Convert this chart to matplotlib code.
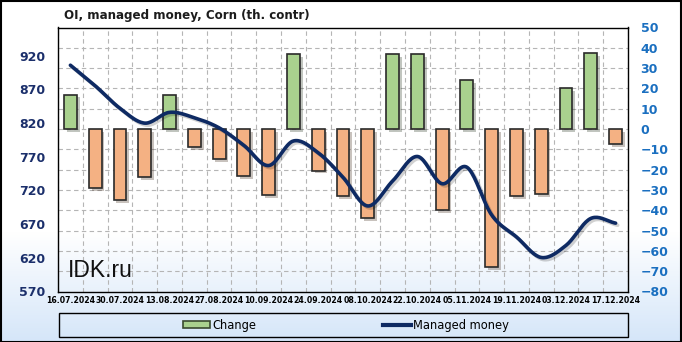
import numpy as np
import matplotlib
matplotlib.use('Agg')
import matplotlib.pyplot as plt
import matplotlib.patheffects as pe
from matplotlib.patches import Rectangle, Patch
from matplotlib.lines import Line2D
from matplotlib.colors import LinearSegmentedColormap

# --- data ---
dates = ['16.07.2024', '23.07.2024', '30.07.2024', '06.08.2024', '13.08.2024',
         '20.08.2024', '27.08.2024', '03.09.2024', '10.09.2024', '17.09.2024',
         '24.09.2024', '01.10.2024', '08.10.2024', '15.10.2024', '22.10.2024',
         '29.10.2024', '05.11.2024', '12.11.2024', '19.11.2024', '26.11.2024',
         '03.12.2024', '10.12.2024', '17.12.2024']
change = [17, -29, -35, -23.5, 17, -9, -15, -23, -32.5, 37, -20.5, -33,
          -44, 37, 37, -40, 24, -68, -33, -32, 20, 37.5, -7.5]
managed_money = [906, 875.5, 842, 820, 836, 828, 813, 787, 757, 793.5, 776,
                 739.5, 697, 734, 770.5, 730, 754.5, 683.5, 651, 620.5,
                 638.5, 678.5, 671.5]
left_ticks = [570, 620, 670, 720, 770, 820, 870, 920]
right_ticks = list(range(-80, 51, 10))

GREEN = '#a9d18e'
ORANGE = '#f4b183'
NAVY = '#0e2a63'


def catmull_rom(xs, ys, steps=20):
    # smooth curve through the points, like the spreadsheet "smoothed line"
    px = np.concatenate([[2 * xs[0] - xs[1]], xs, [2 * xs[-1] - xs[-2]]])
    py = np.concatenate([[2 * ys[0] - ys[1]], ys, [2 * ys[-1] - ys[-2]]])
    out_x, out_y = [], []
    t = np.linspace(0, 1, steps, endpoint=False)
    for i in range(1, len(px) - 2):
        for p, out in ((px, out_x), (py, out_y)):
            p0, p1, p2, p3 = p[i - 1], p[i], p[i + 1], p[i + 2]
            out.extend(0.5 * (2 * p1 + (-p0 + p2) * t
                              + (2 * p0 - 5 * p1 + 4 * p2 - p3) * t ** 2
                              + (-p0 + 3 * p1 - 3 * p2 + p3) * t ** 3))
    out_x.append(xs[-1])
    out_y.append(ys[-1])
    return np.array(out_x), np.array(out_y)


fig = plt.figure(figsize=(6.82, 3.42), dpi=100)

# background gradient: white on top, light blue at the bottom
bg = fig.add_axes([0, 0, 1, 1], zorder=-10)
cmap = LinearSegmentedColormap.from_list('bg', [(0, '#d5e6f9'), (0.32, '#ffffff'), (1, '#ffffff')])
grad = np.linspace(0, 1, 256).reshape(-1, 1)
bg.imshow(grad, cmap=cmap, aspect='auto', origin='lower', extent=[0, 1, 0, 1])
bg.set_axis_off()

ax = fig.add_axes([58 / 682, 1 - 291.5 / 342, 570 / 682, 264 / 342])
ax.patch.set_alpha(0)
ax2 = ax.twinx()
x = np.arange(len(dates))

# bars (Change), right-hand scale
colors = [GREEN if v >= 0 else ORANGE for v in change]
bars = ax.bar(x, change, width=0.52, color=colors, edgecolor='#2a2a2a', linewidth=1.2, zorder=3)
for b in bars:
    b.set_path_effects([pe.SimplePatchShadow(offset=(2, -2), alpha=0.3), pe.Normal()])

ax.set_xlim(-0.5, len(dates) - 0.5)
ax.set_ylim(-80, 50)
ax.yaxis.tick_right()
ax.set_yticks(right_ticks)
ax.tick_params(axis='y', length=0, pad=9, labelsize=9, labelcolor='#1a6fc0')
for lab in ax.get_yticklabels():
    lab.set_fontweight('bold')
ax.set_xticks(x[::2])
ax.set_xticklabels(dates[::2], fontsize=5.6, fontweight='bold')
ax.set_xticks(np.arange(-0.5, len(dates), 1), minor=True)
ax.tick_params(axis='x', which='both', length=0, pad=3)
ax.grid(True, axis='y', which='major', color='#b5b5b5', linestyle=(0, (4, 3)), linewidth=0.8)
ax.grid(True, axis='x', which='minor', color='#b5b5b5', linestyle=(0, (4, 3)), linewidth=0.8)
ax.grid(False, axis='x', which='major')
ax.set_axisbelow(True)
for s in ax.spines.values():
    s.set_color('black')
    s.set_linewidth(1.0)

# line (Managed money), left-hand scale
ax2.yaxis.tick_left()
sx, sy = catmull_rom(x.astype(float), np.array(managed_money, dtype=float))
ax2.plot(sx, sy, color=NAVY, linewidth=2.6, solid_capstyle='round', zorder=4,
         path_effects=[pe.SimpleLineShadow(offset=(1.5, -1.5), alpha=0.18), pe.Normal()])
ax2.set_ylim(570, 962)
ax2.set_yticks(left_ticks)
ax2.tick_params(axis='y', length=0, pad=9, labelsize=9, labelcolor='#1b2f6b')
for lab in ax2.get_yticklabels():
    lab.set_fontweight('bold')
for s in ax2.spines.values():
    s.set_visible(False)

ax.text(0.018, 0.08, 'IDK.ru', transform=ax.transAxes, fontsize=16.5,
        family='Liberation Sans', color='#111111', va='center', zorder=5)

fig.text(187 / 682, 1 - 15 / 342, 'OI, managed money, Corn (th. contr)',
         ha='center', va='center', fontsize=8.6, fontweight='bold', color='#1c1c1c')

# legend box
fig.patches.append(Rectangle((59 / 682, 5 / 342), 569 / 682, 24 / 342, transform=fig.transFigure,
                             facecolor='none', edgecolor='black', linewidth=1.0))
handles = [Patch(facecolor=GREEN, edgecolor='#3a4a30', linewidth=1.2),
           Line2D([0], [0], color=NAVY, linewidth=3)]
fig.legend(handles, ['Change', 'Managed money'], loc='center', ncol=2,
           bbox_to_anchor=(346 / 682, 1 - 325 / 342), frameon=False, fontsize=8.3,
           columnspacing=11, handlelength=2.4, handleheight=0.55, handletextpad=0.2)

# outer border
fig.patches.append(Rectangle((0.5 / 682, 0.5 / 342), 680.5 / 682, 340.5 / 342, transform=fig.transFigure,
                             facecolor='none', edgecolor='black', linewidth=1.5))

fig.savefig('out.png', dpi=100)
